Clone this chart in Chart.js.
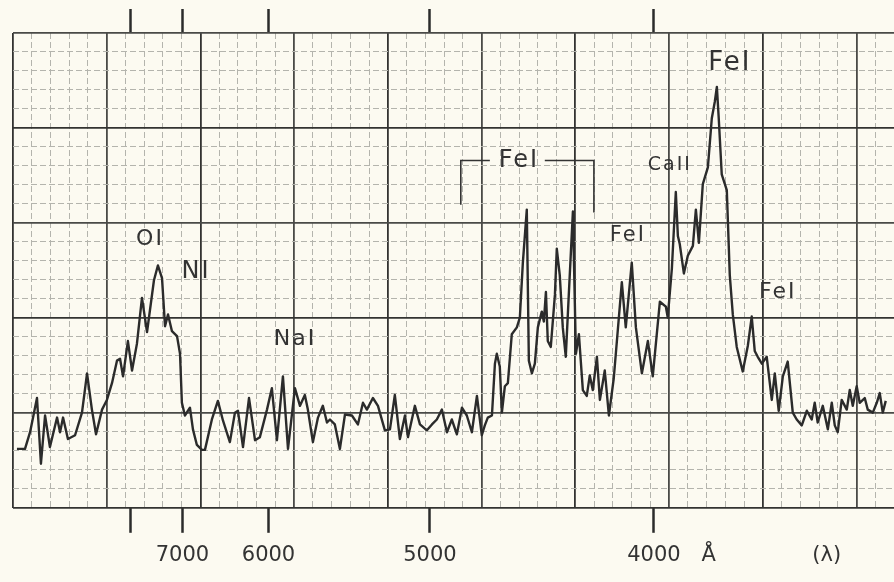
<!DOCTYPE html>
<html>
<head>
<meta charset="utf-8">
<script src="https://cdn.jsdelivr.net/npm/chart.js@4.4.1/dist/chart.umd.min.js"></script>
<style>
  html, body { margin: 0; padding: 0; background: #fcfaf1; }
  #wrap { width: 894px; height: 582px; }
</style>
</head>
<body>
<div id="wrap"><canvas id="c" width="894" height="582"></canvas></div>
<script>
// Position along the recorder chart, in grid divisions (left edge = 0)
const scanPosition = [
  0.21,0.64,0.91,1.28,1.49,1.71,1.97,2.35,2.51,2.67,2.93,3.31,3.68,3.95,4.21,4.43,4.75,5.01,5.28,5.55,
  5.71,5.87,6.13,6.35,6.61,6.88,7.15,7.52,7.73,7.95,8.11,8.27,8.48,8.75,8.91,9.01,9.17,9.44,9.60,9.81,
  10.08,10.24,10.61,10.93,11.20,11.57,11.84,12.00,12.27,12.59,12.91,13.17,13.55,13.81,14.08,14.40,14.67,15.04,15.31,15.57,
  15.73,16.00,16.27,16.53,16.75,16.91,17.17,17.44,17.71,18.08,18.40,18.67,18.88,19.20,19.47,19.84,20.11,20.37,20.64,20.91,
  21.07,21.44,21.71,22.08,22.35,22.61,22.88,23.15,23.41,23.68,23.95,24.21,24.48,24.75,25.01,25.17,25.33,25.55,25.71,25.81,
  25.97,26.08,26.24,26.40,26.61,26.88,27.04,27.20,27.41,27.52,27.68,27.84,28.00,28.21,28.32,28.43,28.53,28.69,28.91,29.01,
  29.17,29.33,29.49,29.65,29.87,30.03,30.19,30.40,30.61,30.77,30.93,31.15,31.31,31.57,31.79,32.05,32.48,32.69,33.01,33.23,
  33.55,33.87,34.13,34.51,34.83,34.93,35.15,35.36,35.47,35.57,35.79,36.00,36.27,36.43,36.59,36.80,37.07,37.28,37.44,37.55,
  37.65,37.81,38.08,38.24,38.40,38.61,38.93,39.20,39.41,39.57,39.73,39.95,40.21,40.48,40.64,40.85,41.07,41.33,41.60,41.81,
  42.08,42.35,42.61,42.77,42.93,43.20,43.47,43.68,43.84,44.00,44.21,44.48,44.64,44.80,45.01,45.17,45.44,45.60,45.87,46.08,
  46.24,46.40,46.56
];
// Recorded intensity, in grid divisions above the bottom edge
const intensity = [
  3.10,3.10,3.98,5.78,2.32,4.86,3.20,4.75,3.98,4.75,3.62,3.82,5.01,7.08,5.17,3.87,5.17,5.68,6.56,7.75,
  7.85,6.92,8.78,7.23,8.63,11.05,9.25,11.98,12.76,12.09,9.56,10.18,9.30,9.04,8.11,5.53,4.86,5.27,4.13,3.31,
  3.05,3.05,4.65,5.63,4.60,3.46,5.01,5.11,3.20,5.78,3.56,3.72,5.17,6.30,3.56,6.92,3.10,6.30,5.37,5.94,
  5.17,3.46,4.75,5.37,4.49,4.65,4.39,3.10,4.91,4.86,4.39,5.53,5.17,5.78,5.37,4.08,4.13,5.94,3.62,4.86,
  3.72,5.37,4.39,4.08,4.39,4.65,5.17,3.98,4.65,3.87,5.27,4.86,3.98,5.89,3.82,4.34,4.75,4.86,7.59,8.11,
  7.44,5.01,6.40,6.56,9.14,9.50,10.02,12.91,15.70,7.75,7.08,7.59,9.50,10.33,9.81,11.36,8.78,8.47,11.21,13.64,
  12.24,9.50,7.95,11.21,15.60,8.11,9.14,6.20,5.89,6.97,6.20,7.95,5.68,7.23,4.86,6.82,11.88,9.50,12.91,9.50,
  7.08,8.78,6.92,10.85,10.59,10.02,12.60,16.63,14.31,13.89,12.34,13.27,13.79,15.70,13.95,17.04,17.92,20.51,21.38,22.16,
  20.51,17.56,16.73,12.24,10.18,8.47,7.18,8.52,10.07,8.26,7.95,7.59,7.95,5.68,7.08,5.11,6.92,7.70,5.01,4.65,
  4.34,5.11,4.65,5.53,4.49,5.37,4.13,5.53,4.34,3.98,5.68,5.17,6.20,5.37,6.40,5.53,5.78,5.17,5.01,5.53,
  6.04,5.01,5.63
];
// Wavelength marks along the scan (grid divisions) and their labels
const wavelengthTickPos = [6.29, 9.04, 13.63, 22.24, 34.19, 37.12, 43.41];
const wavelengthTickLabels = ['', '7000', '6000', '5000', '4000', 'Å', '(λ)'];
const wavelengthTickMarked = [true, true, true, true, true, false, false];
// Line identifications
const lineLabels = ['OI', 'NI', 'NaI', 'FeI', 'CaII', 'FeI', 'FeI', 'FeI'];

// ---- layout / styling (not data) ----
const X_MAX = 47, Y_MAX = 25;
const labelPlacement = [
  {x: 7.31, y: 14.15, size: 22},
  {x: 9.76, y: 12.45, size: 24},
  {x: 15.04, y: 8.88, size: 22},
  {x: 26.99, y: 18.29, size: 24},
  {x: 35.04, y: 18.03, size: 19},
  {x: 38.24, y: 23.40, size: 26},
  {x: 32.80, y: 14.31, size: 21},
  {x: 40.80, y: 11.36, size: 22}
];
const bracketPaths = [
  [[23.89, 15.96], [23.89, 18.29], [25.44, 18.29]],
  [[28.37, 18.29], [30.99, 18.29], [30.99, 15.55]]
];
const INK = '#2b2b2b';
const PAPER = '#fcfaf1';
const FONT = "'DejaVu Sans', sans-serif";

const paperPlugin = {
  id: 'paper',
  beforeDraw(chart) {
    const ctx = chart.ctx;
    ctx.save();
    ctx.fillStyle = PAPER;
    ctx.fillRect(0, 0, chart.width, chart.height);
    ctx.restore();
  }
};

const labelPlugin = {
  id: 'lineLabels',
  afterDatasetsDraw(chart) {
    const ctx = chart.ctx;
    const xs = chart.scales.x, ys = chart.scales.y;
    ctx.save();
    ctx.fillStyle = '#333';
    ctx.strokeStyle = '#333';
    ctx.textAlign = 'center';
    ctx.textBaseline = 'middle';
    if ('letterSpacing' in ctx) ctx.letterSpacing = '2px';
    lineLabels.forEach((t, i) => {
      const p = labelPlacement[i];
      ctx.font = `${p.size}px ${FONT}`;
      ctx.fillText(t, xs.getPixelForValue(p.x), ys.getPixelForValue(p.y));
    });
    ctx.lineWidth = 1.6;
    bracketPaths.forEach(path => {
      ctx.beginPath();
      path.forEach(([bx, by], k) => {
        const px = xs.getPixelForValue(bx), py = ys.getPixelForValue(by);
        if (k === 0) ctx.moveTo(px, py); else ctx.lineTo(px, py);
      });
      ctx.stroke();
    });
    ctx.restore();
  }
};

const unitTicks = n => Array.from({length: n + 1}, (_, i) => ({value: i}));
const isMajor = v => v % 5 === 0;
const gridColor = v => (v % 10 === 0 ? '#333331' : isMajor(v) ? '#4a4a47' : '#b4b4ad');
const gridWidth = v => (isMajor(v) ? 1.8 : 1);
const gridDash = v => (isMajor(v) ? [] : [6, 3]);

new Chart(document.getElementById('c'), {
  type: 'scatter',
  data: {
    datasets: [{
      data: scanPosition.map((x, i) => ({x, y: intensity[i]})),
      showLine: true,
      borderColor: INK,
      borderWidth: 2.4,
      pointRadius: 0,
      tension: 0,
      borderJoinStyle: 'round'
    }]
  },
  options: {
    responsive: false,
    animation: false,
    events: [],
    layout: {padding: {left: 13, right: 0, top: 9, bottom: 4}},
    plugins: {legend: {display: false}, tooltip: {enabled: false}},
    scales: {
      x: {
        type: 'linear', position: 'bottom', min: 0, max: X_MAX,
        afterBuildTicks: ax => { ax.ticks = unitTicks(X_MAX); },
        ticks: {display: false},
        grid: {drawTicks: false, color: c => gridColor(c.tick.value), lineWidth: c => gridWidth(c.tick.value)},
        border: {display: false, dash: c => gridDash(c.tick.value)}
      },
      xb: {
        type: 'linear', position: 'bottom', min: 0, max: X_MAX,
        afterBuildTicks: ax => { ax.ticks = wavelengthTickPos.map(v => ({value: v})); },
        ticks: {
          autoSkip: false, maxRotation: 0, padding: 10,
          color: '#333', font: {family: FONT, size: 21},
          callback: (v, i) => wavelengthTickLabels[i]
        },
        grid: {
          drawOnChartArea: false, drawTicks: true, tickLength: 25, tickWidth: 2.5,
          tickColor: c => (wavelengthTickMarked[c.index] ? INK : 'rgba(0,0,0,0)')
        },
        border: {display: false}
      },
      xt: {
        type: 'linear', position: 'top', min: 0, max: X_MAX,
        afterBuildTicks: ax => { ax.ticks = wavelengthTickPos.map(v => ({value: v})); },
        ticks: {display: false},
        grid: {
          drawOnChartArea: false, drawTicks: true, tickLength: 24, tickWidth: 2.5,
          tickColor: c => (wavelengthTickMarked[c.index] ? INK : 'rgba(0,0,0,0)')
        },
        border: {display: false}
      },
      y: {
        type: 'linear', position: 'left', min: 0, max: Y_MAX,
        afterBuildTicks: ax => { ax.ticks = unitTicks(Y_MAX); },
        ticks: {display: false},
        grid: {drawTicks: false, color: c => gridColor(c.tick.value), lineWidth: c => gridWidth(c.tick.value)},
        border: {display: false, dash: c => gridDash(c.tick.value)}
      }
    }
  },
  plugins: [paperPlugin, labelPlugin]
});
</script>
</body>
</html>
